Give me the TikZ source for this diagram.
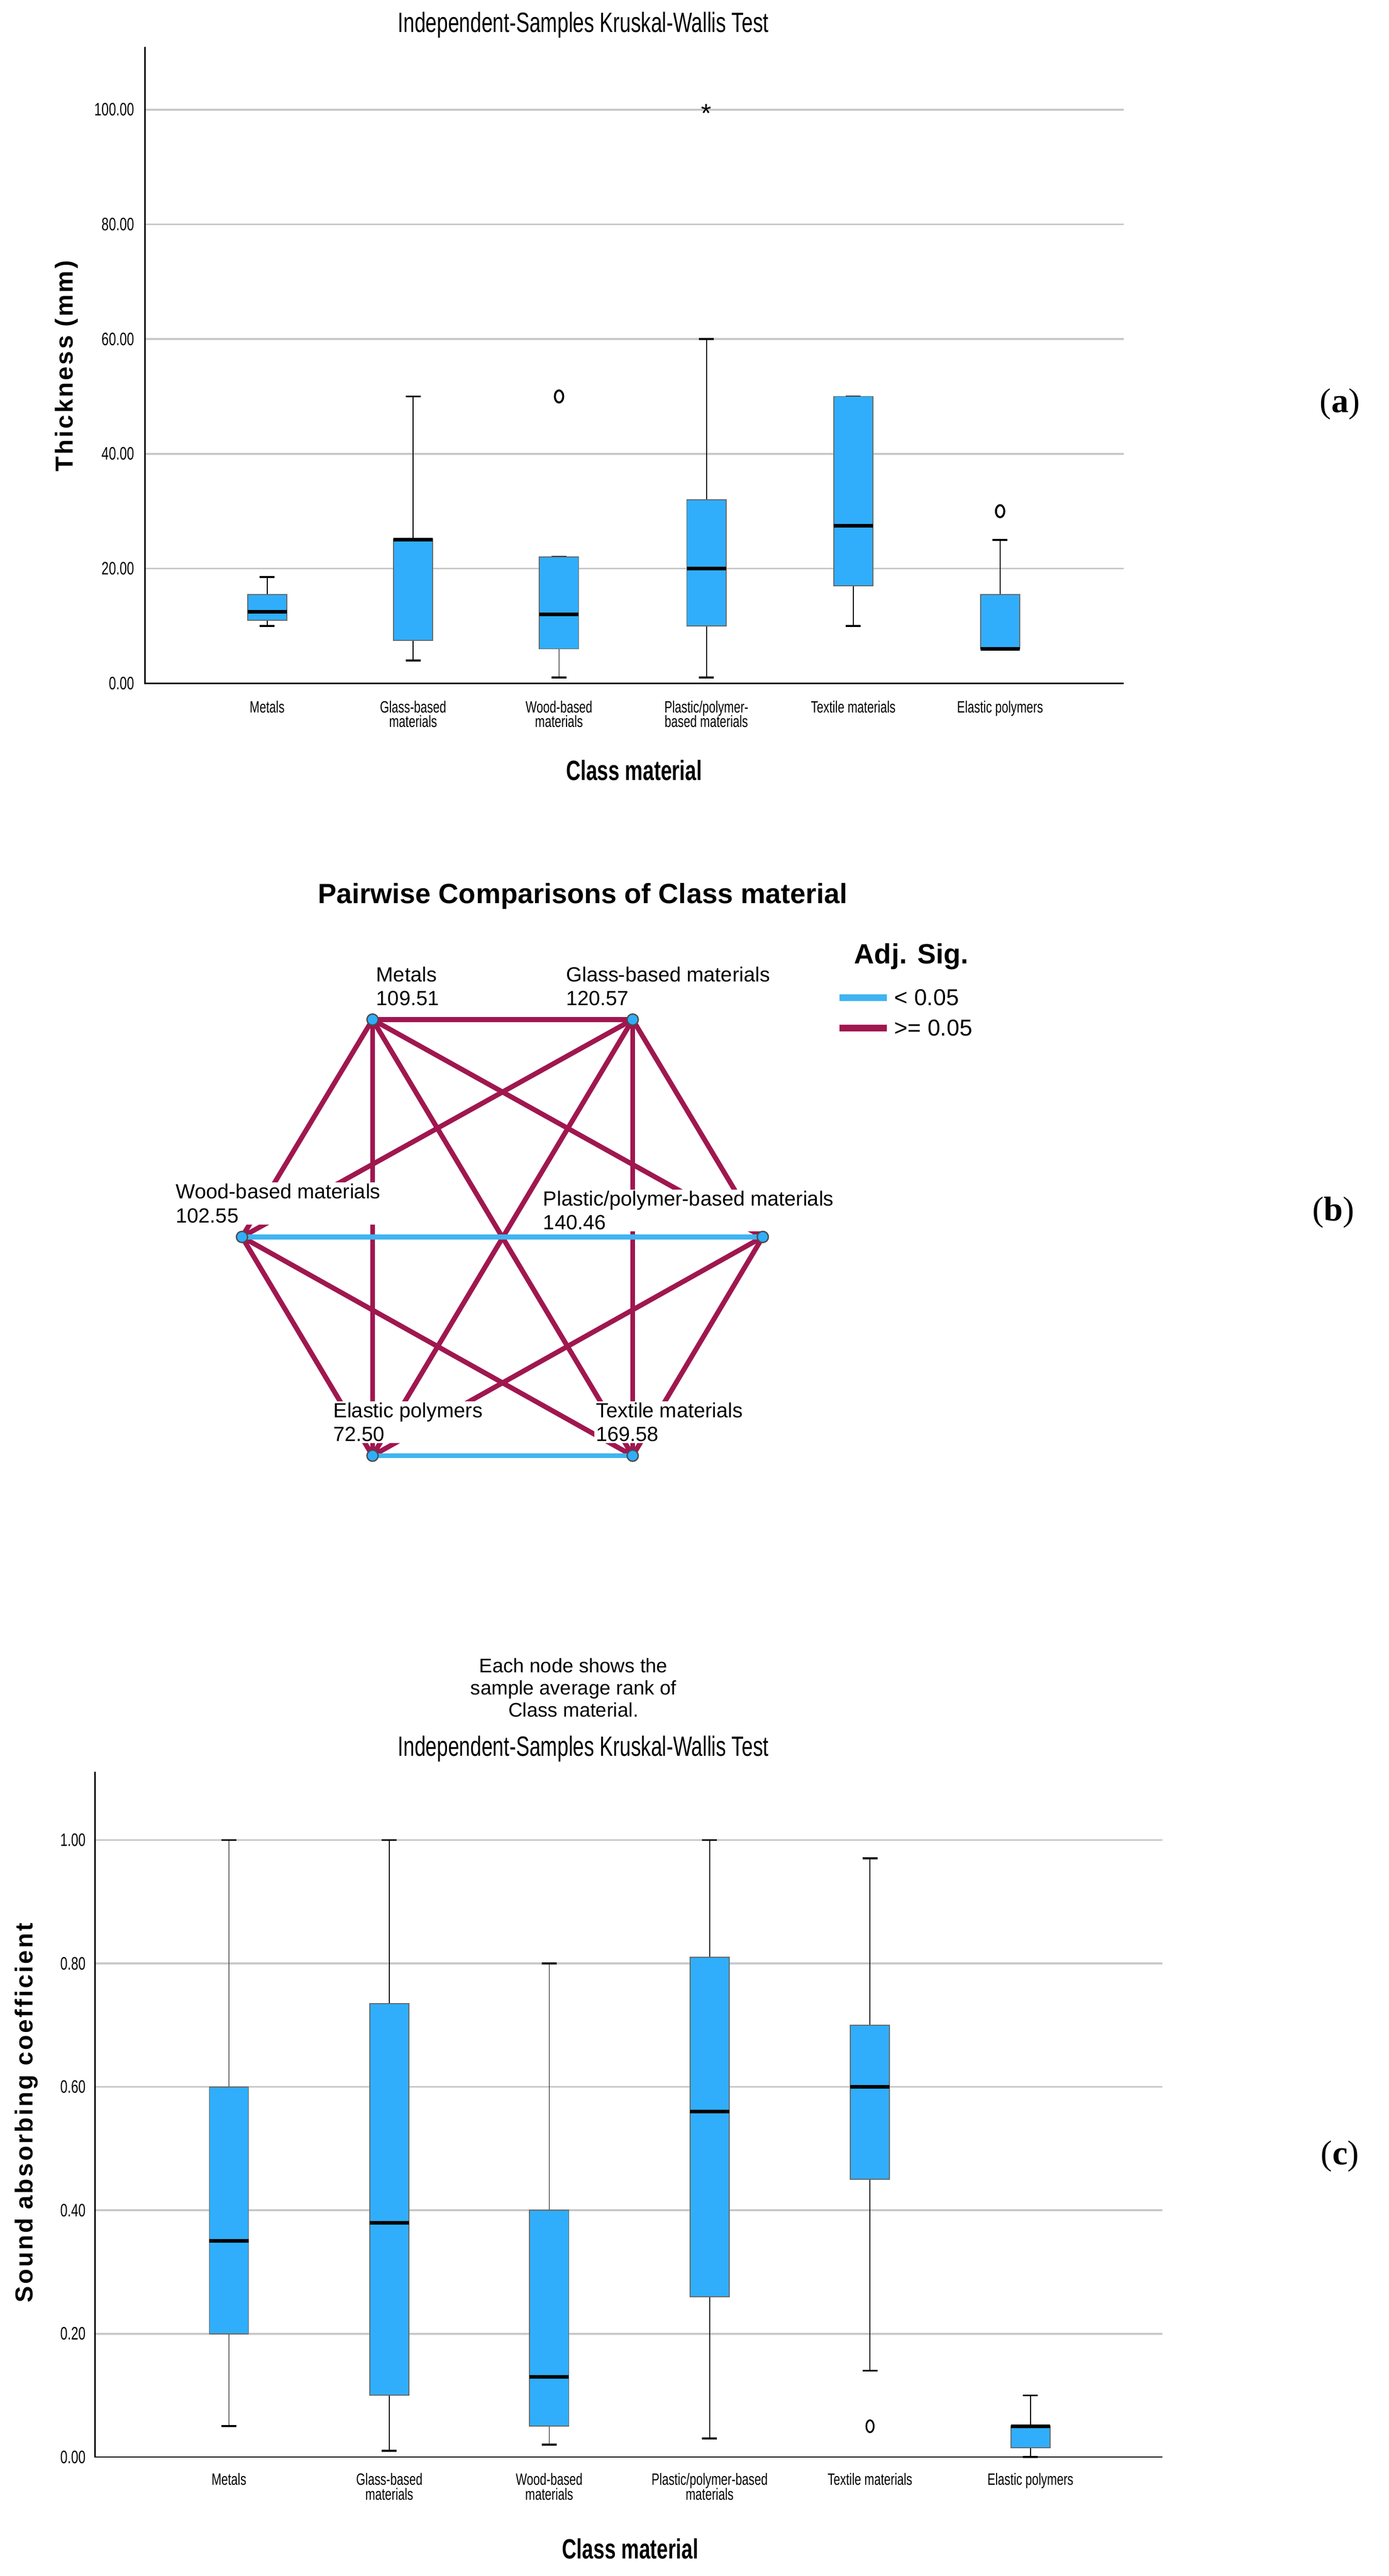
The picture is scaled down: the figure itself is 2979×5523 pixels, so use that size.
\documentclass[tikz,border=0pt]{standalone}
\usepackage{fontspec}
\usepackage{graphicx}
\setmainfont{Liberation Sans}
\newfontfamily\serifp{Liberation Serif}
\definecolor{boxblue}{HTML}{30AEFB}
\definecolor{sigblue}{HTML}{40B4F0}
\definecolor{crim}{HTML}{A0174F}
\definecolor{gridc}{HTML}{C8C8C8}
\newcommand\cnd[1]{\scalebox{0.72}[1]{#1}}
% #1 x, #2 zero y, #3 px per unit, #4 lo, #5 q1, #6 med, #7 q3, #8 hi
\newcommand\bxp[8]{%
  \draw[black,line width=1.2pt] (#1-16,{#2-#3*#4}) -- (#1+16,{#2-#3*#4});
  \draw[black,line width=1.2pt] (#1-16,{#2-#3*#8}) -- (#1+16,{#2-#3*#8});
  \draw[black,line width=0.6pt] (#1,{#2-#3*#4}) -- (#1,{#2-#3*#8});
  \draw[boxf] (#1-42,{#2-#3*#5}) rectangle (#1+42,{#2-#3*#7});
  \draw[medl] (#1-42,{#2-#3*#6}) -- (#1+42,{#2-#3*#6});
}
\begin{document}
\begin{tikzpicture}[x=0.01cm,y=-0.01cm,
  boxf/.style={fill=boxblue,draw=black!60,line width=0.6pt},
  medl/.style={black,line width=2.2pt},
  grid/.style={gridc,line width=1.2pt},
  tick/.style={anchor=east,font=\fontsize{11}{12}\selectfont},
  cat/.style={anchor=north,align=center,font=\fontsize{10}{12}\selectfont},
  ttl/.style={font=\fontsize{17}{18}\selectfont},
  sig/.style={crim,line width=3pt},
  ns/.style={sigblue,line width=3pt},
  nd/.style={circle,fill=boxblue,draw=black!70,line width=0.8pt,inner sep=0pt,minimum size=24pt*0.2845/0.2845*0.28},
  lab/.style={anchor=south west,align=left,fill=white,inner sep=1pt,font=\fontsize{12.5}{14.5}\selectfont},
  pl/.style={font=\serifp\fontsize{21}{22}\selectfont}]
\useasboundingbox (0,0) rectangle (2979,5523);
\fill[white] (0,0) rectangle (2979,5523);
% ---------- panel (a)
\node[ttl] (ta) at (1251,54) {\cnd{Independent-Samples Kruskal-Wallis Test}};
\foreach \v/\t in {20/20.00,40/40.00,60/60.00,80/80.00,100/100.00}{
  \draw[grid] (311,{1465-12.3*\v}) -- (2410,{1465-12.3*\v});
  \node[tick] at (300,{1465-12.3*\v}) {\cnd{\t}};}
\node[tick] at (300,1465) {\cnd{0.00}};
\draw[black,line width=0.8pt] (311,100) -- (311,1465) -- (2410,1465);
\bxp{573}{1465}{12.3}{10}{11}{12.5}{15.5}{18.5}
\bxp{886}{1465}{12.3}{4}{7.5}{25}{25.2}{50}
\bxp{1199}{1465}{12.3}{1}{6}{12}{22}{22}
\bxp{1515}{1465}{12.3}{1}{10}{20}{32}{60}
\bxp{1830}{1465}{12.3}{10}{17}{27.5}{50}{50}
\bxp{2145}{1465}{12.3}{6}{6}{6}{15.5}{25}
\draw[line width=1.2pt] (1199,{1465-12.3*50}) ellipse (9 and 13);
\draw[line width=1.2pt] (2145,{1465-12.3*30}) ellipse (9 and 13);
\node[font=\fontsize{16}{16}\selectfont] (st) at (1515,{1465-12.3*100+8}) {*};
\node[cat] (ca1) at (573,1490) {\cnd{Metals}};
\node[cat] (ca2) at (886,1490) {\cnd{Glass-based}\\[-3pt]\cnd{materials}};
\node[cat] (ca3) at (1199,1490) {\cnd{Wood-based}\\[-3pt]\cnd{materials}};
\node[cat] (ca4) at (1515,1490) {\cnd{Plastic/polymer-}\\[-3pt]\cnd{based materials}};
\node[cat] (ca5) at (1830,1490) {\cnd{Textile materials}};
\node[cat] (ca6) at (2145,1490) {\cnd{Elastic polymers}};
\node[font=\bfseries\fontsize{17}{18}\selectfont] (xa) at (1360,1651) {\cnd{Class material}};
\node[font=\bfseries\fontsize{15}{16}\selectfont,rotate=90] (ya) at (143,785) {\addfontfeature{LetterSpace=8}Thickness (mm)};
\node[pl] (pa) at (2874,866) {(\textbf{a})};
% ---------- panel (b)
\node[font=\bfseries\fontsize{17}{18}\selectfont] (tb) at (1250,1921) {Pairwise Comparisons of Class material};
\coordinate (M) at (799,2186);
\coordinate (G) at (1357,2186);
\coordinate (W) at (519,2652);
\coordinate (P) at (1636,2652);
\coordinate (E) at (799,3121);
\coordinate (T) at (1357,3121);
\foreach \a/\b in {M/G,M/W,M/P,M/E,M/T,G/W,G/P,G/E,G/T,W/E,W/T,P/E,P/T}
  \draw[sig] (\a) -- (\b);
\draw[ns] (W) -- (P);
\draw[ns] (E) -- (T);
\node[lab] (lM) at (803,2160) {Metals\\109.51};
\node[lab] (lG) at (1210,2160) {Glass-based materials\\120.57};
\node[lab] (lW) at (373,2626) {Wood-based materials\\102.55};
\node[lab] (lP) at (1161,2641) {Plastic/polymer-based materials\\140.46};
\node[lab] (lE) at (711,3095) {Elastic polymers\\72.50};
\node[lab] (lT) at (1274,3095) {Textile materials\\169.58};
\foreach \n in {M,G,W,P,E,T}
  \node[circle,fill=boxblue,draw=black!70,line width=0.8pt,inner sep=0pt,minimum size=0.24cm] at (\n) {};
\node[font=\bfseries\fontsize{17}{18}\selectfont,anchor=west] (as) at (1820,2051) {Adj. Sig.};
\coordinate (l1a) at (1800,2139); \coordinate (l1b) at (1902,2139);
\coordinate (l2a) at (1800,2204); \coordinate (l2b) at (1902,2204);
\draw[ns,line width=4pt] (l1a) -- (l1b);
\draw[sig,line width=4pt] (l2a) -- (l2b);
\node[anchor=west,font=\fontsize{14}{15}\selectfont] (lg1) at (1906,2139) {< 0.05};
\node[anchor=west,font=\fontsize{14}{15}\selectfont] (lg2) at (1906,2204) {>= 0.05};
\node[align=center,font=\fontsize{12}{13.5}\selectfont] (fn) at (1230,3618) {Each node shows the\\sample average rank of\\Class material.};
\node[pl] (pb) at (2860,2600) {(\textbf{b})};
% ---------- panel (c)
\node[ttl] (tc) at (1251,3749) {\cnd{Independent-Samples Kruskal-Wallis Test}};
\foreach \v/\t in {0.2/0.20,0.4/0.40,0.6/0.60,0.8/0.80,1.0/1.00}{
  \draw[grid] (204,{5268-1323*\v}) -- (2493,{5268-1323*\v});
  \node[tick] at (196,{5268-1323*\v}) {\cnd{\t}};}
\node[tick] at (196,5268) {\cnd{0.00}};
\draw[black,line width=0.8pt] (204,3799) -- (204,5268) -- (2493,5268);
\bxp{491}{5268}{1323}{0.05}{0.20}{0.35}{0.60}{1.00}
\bxp{835}{5268}{1323}{0.01}{0.10}{0.38}{0.735}{1.00}
\bxp{1178}{5268}{1323}{0.02}{0.05}{0.13}{0.40}{0.80}
\bxp{1522}{5268}{1323}{0.03}{0.26}{0.56}{0.81}{1.00}
\bxp{1866}{5268}{1323}{0.14}{0.45}{0.60}{0.70}{0.97}
\bxp{2210}{5268}{1323}{0.0}{0.015}{0.05}{0.05}{0.10}
\draw[line width=1pt] (1866,{5268-1323*0.05}) ellipse (8 and 13);
\node[cat] (cc1) at (491,5290) {\cnd{Metals}};
\node[cat] (cc2) at (835,5290) {\cnd{Glass-based}\\[-3pt]\cnd{materials}};
\node[cat] (cc3) at (1178,5290) {\cnd{Wood-based}\\[-3pt]\cnd{materials}};
\node[cat] (cc4) at (1522,5290) {\cnd{Plastic/polymer-based}\\[-3pt]\cnd{materials}};
\node[cat] (cc5) at (1866,5290) {\cnd{Textile materials}};
\node[cat] (cc6) at (2210,5290) {\cnd{Elastic polymers}};
\node[font=\bfseries\fontsize{17}{18}\selectfont] (xc) at (1352,5465) {\cnd{Class material}};
\node[font=\bfseries\fontsize{15}{16}\selectfont,rotate=90] (yc) at (57,4530) {\addfontfeature{LetterSpace=8}Sound absorbing coefficient};
\node[pl] (pc) at (2874,4623) {(\textbf{c})};
\end{tikzpicture}
\end{document}
